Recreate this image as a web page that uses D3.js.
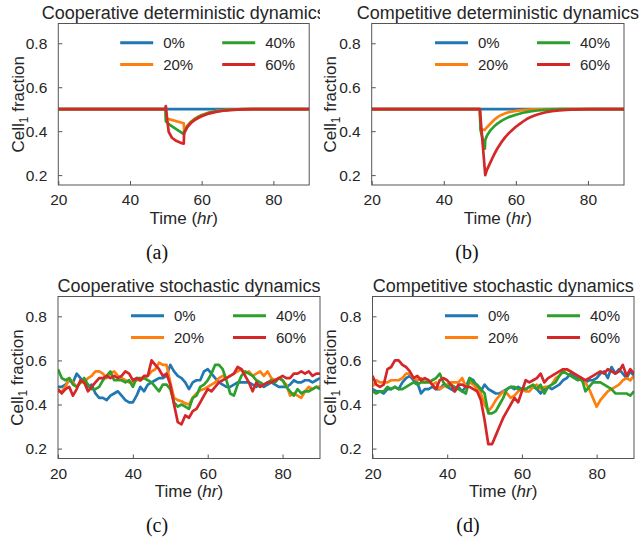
<html>
<head>
<meta charset="utf-8">
<script src="https://cdn.jsdelivr.net/npm/d3@7"></script>
<style>
  body { margin: 0; background: #fff; }
  text { font-family: "Liberation Sans", Arial, sans-serif; fill: #262626; }
  .cap { font-family: "Liberation Serif", "Times New Roman", serif; fill: #111; }
</style>
</head>
<body>
<div id="chart"></div>
<script>
// ---- data ----
var seriesNames = ["0%", "20%", "40%", "60%"];
var colors = ["#1f77b4", "#ff7f0e", "#2ca02c", "#d62728"];
var xTicks = [20, 40, 60, 80];
var yTicks = [0.2, 0.4, 0.6, 0.8];

// deterministic runs, [time, fraction]
var coopDetBlue = [[20, 0.5], [90, 0.5]];
var coopDetOrange = [[20, 0.5], [50, 0.5], [50.1, 0.458], [55, 0.436], [55.1, 0.398], [56, 0.425], [57, 0.443],
  [58, 0.456], [59, 0.466], [60, 0.474], [62, 0.485], [64, 0.492], [66, 0.496], [68, 0.498], [72, 0.5], [90, 0.5]];
var coopDetGreen = [[20, 0.5], [49.9, 0.5], [50, 0.445], [51, 0.43], [53, 0.408], [55, 0.386], [55.1, 0.395],
  [56, 0.422], [57, 0.44], [58, 0.453], [59, 0.463], [60, 0.471], [62, 0.483], [64, 0.49], [66, 0.495], [68, 0.498],
  [72, 0.5], [90, 0.5]];
var coopDetRed = [[20, 0.5], [49.8, 0.5], [50, 0.514], [50.4, 0.45], [50.8, 0.397], [51.7, 0.37], [53, 0.355],
  [54, 0.348], [55, 0.343], [55.1, 0.39], [56, 0.418], [57, 0.437], [58, 0.45], [59, 0.46], [60, 0.468], [62, 0.48],
  [64, 0.488], [66, 0.493], [68, 0.496], [70, 0.498], [74, 0.5], [90, 0.5]];

var compDetBlue = [[20, 0.5], [90, 0.5]];
var compDetOrange = [[20, 0.5], [50, 0.5], [50.2, 0.41], [51.3, 0.405], [52, 0.418], [53, 0.435], [54, 0.452],
  [55, 0.465], [56, 0.474], [57, 0.481], [58, 0.486], [60, 0.492], [62, 0.496], [65, 0.499], [70, 0.5], [90, 0.5]];
var compDetGreen = [[20, 0.5], [50, 0.5], [50.2, 0.405], [51.4, 0.32], [51.5, 0.36], [52, 0.38], [53, 0.405],
  [54, 0.422], [55, 0.436], [56, 0.447], [57, 0.456], [58, 0.464], [60, 0.475], [62, 0.484], [64, 0.49], [66, 0.494],
  [68, 0.497], [72, 0.5], [90, 0.5]];
var compDetRed = [[20, 0.5], [50, 0.5], [51.5, 0.2], [52, 0.225], [53, 0.26], [54, 0.295], [55, 0.325], [56, 0.35],
  [57, 0.372], [58, 0.39], [59, 0.405], [60, 0.42], [61, 0.432], [62, 0.444], [63, 0.455], [64, 0.463], [65, 0.47],
  [66, 0.476], [68, 0.485], [70, 0.491], [72, 0.495], [75, 0.498], [80, 0.5], [90, 0.5]];

// stochastic runs, one value per hour from 20 to 90
var stochTimes = d3.range(20, 91, 1);
var coopStochBlue = [0.48, 0.48, 0.49, 0.51, 0.50, 0.54, 0.52, 0.50, 0.48, 0.49, 0.45, 0.43, 0.43, 0.42, 0.44, 0.45,
  0.46, 0.44, 0.42, 0.41, 0.41, 0.44, 0.48, 0.46, 0.49, 0.50, 0.51, 0.52, 0.52, 0.53, 0.58, 0.55, 0.53, 0.52, 0.50,
  0.47, 0.50, 0.51, 0.51, 0.55, 0.56, 0.54, 0.52, 0.50, 0.49, 0.48, 0.48, 0.49, 0.50, 0.50, 0.50, 0.50, 0.49, 0.48,
  0.49, 0.48, 0.49, 0.50, 0.49, 0.48, 0.48, 0.48, 0.49, 0.51, 0.50, 0.50, 0.51, 0.51, 0.50, 0.51, 0.52];
var coopStochOrange = [0.46, 0.46, 0.48, 0.52, 0.50, 0.48, 0.50, 0.50, 0.52, 0.53, 0.55, 0.55, 0.54, 0.52, 0.54, 0.55,
  0.53, 0.52, 0.51, 0.50, 0.50, 0.51, 0.51, 0.52, 0.53, 0.55, 0.56, 0.59, 0.58, 0.58, 0.50, 0.43, 0.42, 0.415, 0.405,
  0.40, 0.43, 0.45, 0.465, 0.47, 0.48, 0.49, 0.50, 0.52, 0.53, 0.52, 0.53, 0.54, 0.55, 0.56, 0.54, 0.55, 0.53, 0.54,
  0.55, 0.53, 0.55, 0.52, 0.51, 0.52, 0.51, 0.49, 0.44, 0.45, 0.44, 0.43, 0.46, 0.48, 0.47, 0.48, 0.48];
var coopStochGreen = [0.56, 0.52, 0.51, 0.52, 0.49, 0.48, 0.50, 0.52, 0.49, 0.47, 0.47, 0.48, 0.51, 0.53, 0.55, 0.51,
  0.51, 0.51, 0.50, 0.51, 0.48, 0.52, 0.52, 0.52, 0.51, 0.50, 0.48, 0.46, 0.49, 0.49, 0.47, 0.41, 0.39, 0.40, 0.39,
  0.38, 0.43, 0.44, 0.48, 0.49, 0.51, 0.54, 0.58, 0.58, 0.56, 0.51, 0.45, 0.44, 0.49, 0.53, 0.55, 0.54, 0.53, 0.51,
  0.50, 0.49, 0.50, 0.51, 0.50, 0.52, 0.51, 0.48, 0.46, 0.44, 0.47, 0.45, 0.46, 0.46, 0.47, 0.48, 0.47];
var coopStochRed = [0.47, 0.45, 0.47, 0.48, 0.44, 0.47, 0.51, 0.50, 0.46, 0.48, 0.50, 0.52, 0.52, 0.53, 0.52, 0.53,
  0.52, 0.53, 0.55, 0.54, 0.51, 0.52, 0.51, 0.53, 0.53, 0.60, 0.58, 0.56, 0.53, 0.54, 0.49, 0.40, 0.32, 0.31, 0.35,
  0.34, 0.37, 0.38, 0.41, 0.44, 0.47, 0.46, 0.48, 0.50, 0.51, 0.52, 0.53, 0.54, 0.57, 0.56, 0.53, 0.50, 0.46, 0.50,
  0.48, 0.49, 0.50, 0.50, 0.51, 0.52, 0.53, 0.52, 0.52, 0.54, 0.54, 0.55, 0.54, 0.55, 0.53, 0.54, 0.54];

var compStochBlue = [0.47, 0.46, 0.46, 0.45, 0.47, 0.47, 0.48, 0.47, 0.50, 0.52, 0.53, 0.51, 0.50, 0.45, 0.47, 0.47,
  0.48, 0.47, 0.47, 0.49, 0.48, 0.47, 0.46, 0.48, 0.46, 0.48, 0.52, 0.51, 0.48, 0.46, 0.49, 0.47, 0.46, 0.45, 0.45,
  0.46, 0.47, 0.48, 0.47, 0.48, 0.47, 0.47, 0.48, 0.48, 0.47, 0.45, 0.47, 0.48, 0.47, 0.48, 0.49, 0.51, 0.52, 0.54,
  0.53, 0.52, 0.51, 0.50, 0.51, 0.51, 0.52, 0.54, 0.55, 0.52, 0.57, 0.54, 0.56, 0.54, 0.52, 0.55, 0.53];
var compStochOrange = [0.48, 0.51, 0.50, 0.50, 0.50, 0.51, 0.51, 0.51, 0.52, 0.54, 0.54, 0.52, 0.51, 0.52, 0.50, 0.51,
  0.49, 0.50, 0.47, 0.48, 0.49, 0.50, 0.50, 0.50, 0.52, 0.48, 0.50, 0.49, 0.47, 0.45, 0.40, 0.37, 0.39, 0.42, 0.44,
  0.46, 0.45, 0.43, 0.44, 0.46, 0.47, 0.46, 0.46, 0.48, 0.49, 0.47, 0.48, 0.48, 0.49, 0.52, 0.53, 0.55, 0.56, 0.55,
  0.54, 0.53, 0.52, 0.50, 0.47, 0.43, 0.39, 0.42, 0.44, 0.46, 0.47, 0.48, 0.49, 0.51, 0.52, 0.51, 0.53];
var compStochGreen = [0.46, 0.45, 0.46, 0.46, 0.48, 0.47, 0.48, 0.47, 0.47, 0.48, 0.49, 0.50, 0.49, 0.50, 0.50, 0.50,
  0.51, 0.52, 0.54, 0.50, 0.48, 0.49, 0.48, 0.47, 0.46, 0.45, 0.52, 0.50, 0.49, 0.47, 0.45, 0.36, 0.36, 0.37, 0.40,
  0.43, 0.47, 0.48, 0.48, 0.47, 0.47, 0.47, 0.48, 0.49, 0.47, 0.49, 0.45, 0.48, 0.49, 0.50, 0.53, 0.55, 0.54, 0.53,
  0.52, 0.51, 0.52, 0.46, 0.48, 0.50, 0.50, 0.50, 0.49, 0.48, 0.47, 0.45, 0.45, 0.45, 0.45, 0.44, 0.46];
var compStochRed = [0.53, 0.49, 0.48, 0.49, 0.56, 0.57, 0.60, 0.60, 0.58, 0.57, 0.55, 0.52, 0.53, 0.51, 0.52, 0.51,
  0.49, 0.47, 0.51, 0.52, 0.51, 0.49, 0.46, 0.49, 0.49, 0.48, 0.48, 0.47, 0.46, 0.42, 0.33, 0.22, 0.22, 0.26, 0.30,
  0.34, 0.37, 0.40, 0.43, 0.41, 0.46, 0.51, 0.50, 0.51, 0.52, 0.54, 0.50, 0.52, 0.53, 0.54, 0.55, 0.56, 0.56, 0.55,
  0.54, 0.53, 0.52, 0.51, 0.52, 0.53, 0.54, 0.55, 0.54, 0.56, 0.55, 0.54, 0.55, 0.58, 0.53, 0.56, 0.54];

function pairs(values) {
  return values.map(function (v, i) { return [stochTimes[i], v]; });
}

var panels = [
  { title: "Cooperative deterministic dynamics", caption: "(a)",
    x0: 58.3, x1: 309.2, y0: 23.5, y1: 185, labX: 17.5, capX: 157, capY: 258.5, clip: true,
    lines: [coopDetBlue, coopDetOrange, coopDetGreen, coopDetRed] },
  { title: "Competitive deterministic dynamics", caption: "(b)",
    x0: 371.7, x1: 624, y0: 23.5, y1: 185, labX: 330, capX: 467, capY: 258.5, clip: false,
    lines: [compDetBlue, compDetOrange, compDetGreen, compDetRed] },
  { title: "Cooperative stochastic dynamics", caption: "(c)",
    x0: 58, x1: 320, y0: 296.5, y1: 458.5, labX: 16.5, capX: 157, capY: 532, clip: true,
    lines: [pairs(coopStochBlue), pairs(coopStochOrange), pairs(coopStochGreen), pairs(coopStochRed)] },
  { title: "Competitive stochastic dynamics", caption: "(d)",
    x0: 372.5, x1: 634, y0: 296.5, y1: 458.5, labX: 330, capX: 468, capY: 532, clip: false,
    lines: [pairs(compStochBlue), pairs(compStochOrange), pairs(compStochGreen), pairs(compStochRed)] }
];

var width = 639, height = 543;
var svg = d3.select("#chart").append("svg")
  .attr("width", width).attr("height", height);

var defs = svg.append("defs");
defs.append("clipPath").attr("id", "leftcol")
  .append("rect").attr("x", 0).attr("y", 0).attr("width", 320).attr("height", height);

panels.forEach(function (p, pi) {
  var x = d3.scaleLinear().domain([20, 90]).range([p.x0, p.x1]);
  var y = d3.scaleLinear().domain([0.155, 0.89]).range([p.y1, p.y0]);
  var g = svg.append("g");

  defs.append("clipPath").attr("id", "plot" + pi)
    .append("rect").attr("x", p.x0).attr("y", p.y0)
    .attr("width", p.x1 - p.x0).attr("height", p.y1 - p.y0);

  // title
  var t = g.append("text")
    .attr("x", (p.x0 + p.x1) / 2).attr("y", p.y0 - 5)
    .attr("text-anchor", "middle").style("font-size", "18px")
    .text(p.title);
  if (p.clip) t.attr("clip-path", "url(#leftcol)");

  // lines
  var line = d3.line().x(function (d) { return x(d[0]); }).y(function (d) { return y(d[1]); });
  g.append("g").attr("clip-path", "url(#plot" + pi + ")")
    .selectAll("path").data(p.lines).enter().append("path")
    .attr("d", line)
    .attr("fill", "none")
    .attr("stroke", function (d, i) { return colors[i]; })
    .attr("stroke-width", 2.7)
    .attr("stroke-linejoin", "round");

  // frame
  g.append("rect").attr("x", p.x0).attr("y", p.y0)
    .attr("width", p.x1 - p.x0).attr("height", p.y1 - p.y0)
    .attr("fill", "none").attr("stroke", "#555").attr("stroke-width", 1);

  // ticks point inward
  var xAxis = d3.axisBottom(x).tickValues(xTicks).tickSizeInner(-4).tickSizeOuter(0).tickPadding(9);
  var xa = g.append("g").attr("transform", "translate(0," + p.y1 + ")").call(xAxis);
  var yAxis = d3.axisLeft(y).tickValues(yTicks).tickSizeInner(-4).tickSizeOuter(0).tickPadding(11)
    .tickFormat(d3.format(".1f"));
  var ya = g.append("g").attr("transform", "translate(" + p.x0 + ",0)").call(yAxis);
  [xa, ya].forEach(function (a) {
    a.select(".domain").remove();
    a.selectAll(".tick line").attr("stroke", "#555");
    a.selectAll(".tick text").style("font-size", "15.5px").attr("fill", "#262626")
      .style("font-family", '"Liberation Sans", Arial, sans-serif');
  });

  // axis labels
  var xl = g.append("text").attr("x", (p.x0 + p.x1) / 2).attr("y", p.y1 + 38.5)
    .attr("text-anchor", "middle").style("font-size", "17px");
  xl.append("tspan").text("Time (");
  xl.append("tspan").style("font-style", "italic").text("hr");
  xl.append("tspan").text(")");

  var yl = g.append("text")
    .attr("transform", "translate(" + (p.labX + 6) + "," + ((p.y0 + p.y1) / 2) + ") rotate(-90)")
    .attr("text-anchor", "middle").style("font-size", "17px");
  yl.append("tspan").text("Cell");
  yl.append("tspan").attr("dy", 4).style("font-size", "12px").text("1");
  yl.append("tspan").attr("dy", -4).text(" fraction");

  // legend
  var lg = g.append("g");
  seriesNames.forEach(function (name, i) {
    var lx = p.x1 - 189 + Math.floor(i / 2) * 102;
    var ly = p.y0 + 19.3 + (i % 2) * 21.7;
    lg.append("line").attr("x1", lx).attr("x2", lx + 33).attr("y1", ly).attr("y2", ly)
      .attr("stroke", colors[i]).attr("stroke-width", 3);
    lg.append("text").attr("x", lx + 43).attr("y", ly + 5.5)
      .style("font-size", "15px").text(name);
  });

  // caption
  svg.append("text").attr("class", "cap")
    .attr("x", p.capX).attr("y", p.capY)
    .attr("text-anchor", "middle").style("font-size", "20px")
    .text(p.caption);
});
</script>
</body>
</html>
